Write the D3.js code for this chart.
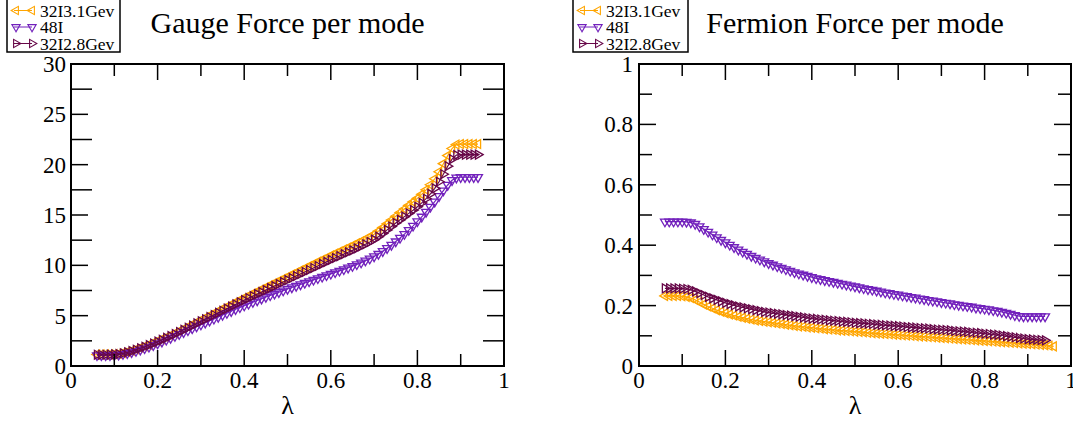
<!DOCTYPE html>
<html>
  <head>
    <meta charset="utf-8" />
    <title>Gauge / Fermion Force per mode</title>
    <script src="https://d3js.org/d3.v7.min.js"></script>
    <style>
      body { margin: 0; background: #fff; }
    </style>
  </head>
  <body>
    <div id="figure"></div>
    <script type="text/javascript">
      // lambda values (shared x for every series)
      var lambda = [
        0.06, 0.07, 0.08, 0.09, 0.10, 0.11, 0.12, 0.13, 0.14, 0.15,
        0.16, 0.17, 0.18, 0.19, 0.20, 0.21, 0.22, 0.23, 0.24, 0.25,
        0.26, 0.27, 0.28, 0.29, 0.30, 0.31, 0.32, 0.33, 0.34, 0.35,
        0.36, 0.37, 0.38, 0.39, 0.40, 0.41, 0.42, 0.43, 0.44, 0.45,
        0.46, 0.47, 0.48, 0.49, 0.50, 0.51, 0.52, 0.53, 0.54, 0.55,
        0.56, 0.57, 0.58, 0.59, 0.60, 0.61, 0.62, 0.63, 0.64, 0.65,
        0.66, 0.67, 0.68, 0.69, 0.70, 0.71, 0.72, 0.73, 0.74, 0.75,
        0.76, 0.77, 0.78, 0.79, 0.80, 0.81, 0.82, 0.83, 0.84, 0.85,
        0.86, 0.87, 0.88, 0.89, 0.90, 0.91, 0.92, 0.93, 0.94, 0.95,
        0.96
      ];

      var seriesNames = ["32I3.1Gev", "48I", "32I2.8Gev"];

      // Gauge force per mode
      var gauge31 = [
        1.15, 1.15, 1.15, 1.16, 1.18, 1.22, 1.30, 1.40, 1.52, 1.66,
        1.81, 1.96, 2.12, 2.30, 2.48, 2.67, 2.86, 3.06, 3.26, 3.47,
        3.68, 3.90, 4.12, 4.35, 4.57, 4.79, 5.01, 5.23, 5.45, 5.67,
        5.89, 6.11, 6.33, 6.55, 6.77, 6.98, 7.19, 7.40, 7.61, 7.82,
        8.03, 8.24, 8.45, 8.66, 8.87, 9.08, 9.29, 9.50, 9.71, 9.92,
        10.13, 10.34, 10.55, 10.76, 10.97, 11.17, 11.37, 11.57, 11.77, 11.97,
        12.18, 12.39, 12.61, 12.84, 13.08, 13.40, 13.75, 14.12, 14.50, 14.88,
        15.25, 15.60, 15.95, 16.30, 16.65, 17.05, 17.50, 18.00, 18.60, 19.30,
        20.10, 20.90, 21.60, 22.00, 22.05, 22.05, 22.05, 22.05, 22.05
      ];
      var gauge48 = [
        1.05, 1.05, 1.05, 1.06, 1.08, 1.12, 1.18, 1.26, 1.36, 1.48,
        1.61, 1.75, 1.90, 2.06, 2.23, 2.41, 2.59, 2.78, 2.97, 3.16,
        3.35, 3.54, 3.73, 3.92, 4.11, 4.30, 4.49, 4.68, 4.87, 5.06,
        5.25, 5.44, 5.63, 5.82, 6.00, 6.17, 6.34, 6.51, 6.68, 6.85,
        7.01, 7.17, 7.33, 7.49, 7.65, 7.80, 7.95, 8.10, 8.25, 8.40,
        8.55, 8.70, 8.85, 9.00, 9.15, 9.30, 9.45, 9.60, 9.76, 9.92,
        10.09, 10.27, 10.46, 10.66, 10.88, 11.12, 11.40, 11.70, 12.02, 12.36,
        12.72, 13.10, 13.50, 13.92, 14.36, 14.82, 15.30, 15.80, 16.32, 16.86,
        17.42, 17.98, 18.45, 18.70, 18.75, 18.75, 18.75, 18.75, 18.75
      ];
      var gauge28 = [
        1.12, 1.12, 1.12, 1.13, 1.15, 1.19, 1.26, 1.36, 1.48, 1.62,
        1.76, 1.91, 2.07, 2.24, 2.42, 2.60, 2.79, 2.98, 3.18, 3.38,
        3.59, 3.80, 4.01, 4.23, 4.44, 4.65, 4.86, 5.07, 5.28, 5.49,
        5.70, 5.91, 6.12, 6.33, 6.54, 6.74, 6.94, 7.14, 7.34, 7.54,
        7.74, 7.94, 8.14, 8.34, 8.54, 8.74, 8.94, 9.14, 9.34, 9.54,
        9.74, 9.94, 10.14, 10.34, 10.54, 10.73, 10.92, 11.11, 11.30, 11.49,
        11.69, 11.89, 12.10, 12.32, 12.56, 12.85, 13.18, 13.52, 13.86, 14.20,
        14.52, 14.84, 15.16, 15.48, 15.82, 16.20, 16.62, 17.10, 17.65, 18.30,
        19.05, 19.85, 20.55, 20.95, 21.00, 21.00, 21.00, 21.00, 21.00
      ];

      // Fermion force per mode
      var fermion31 = [
        0.232, 0.232, 0.232, 0.232, 0.231, 0.229, 0.225, 0.219, 0.212, 0.204,
        0.197, 0.191, 0.185, 0.180, 0.175, 0.171, 0.167, 0.163, 0.160, 0.157,
        0.154, 0.151, 0.149, 0.147, 0.145, 0.143, 0.141, 0.139, 0.137, 0.135,
        0.133, 0.131, 0.130, 0.128, 0.127, 0.125, 0.124, 0.122, 0.121, 0.120,
        0.118, 0.117, 0.116, 0.115, 0.114, 0.113, 0.112, 0.110, 0.109, 0.108,
        0.107, 0.106, 0.105, 0.104, 0.103, 0.102, 0.101, 0.100, 0.099, 0.098,
        0.097, 0.096, 0.095, 0.094, 0.093, 0.092, 0.091, 0.090, 0.089, 0.088,
        0.087, 0.086, 0.085, 0.084, 0.083, 0.082, 0.081, 0.080, 0.079, 0.078,
        0.077, 0.076, 0.075, 0.074, 0.073, 0.072, 0.071, 0.070, 0.069, 0.067,
        0.065
      ];
      var fermion48 = [
        0.478, 0.478, 0.478, 0.478, 0.478, 0.477, 0.475, 0.470, 0.462, 0.453,
        0.444, 0.435, 0.426, 0.417, 0.409, 0.401, 0.393, 0.385, 0.378, 0.371,
        0.364, 0.358, 0.352, 0.346, 0.340, 0.335, 0.330, 0.325, 0.320, 0.315,
        0.310, 0.306, 0.302, 0.298, 0.294, 0.290, 0.287, 0.284, 0.281, 0.278,
        0.275, 0.272, 0.269, 0.266, 0.263, 0.260, 0.257, 0.254, 0.252, 0.249,
        0.246, 0.243, 0.241, 0.238, 0.236, 0.233, 0.231, 0.228, 0.226, 0.223,
        0.221, 0.218, 0.216, 0.214, 0.211, 0.209, 0.207, 0.204, 0.202, 0.200,
        0.198, 0.196, 0.193, 0.191, 0.189, 0.187, 0.184, 0.182, 0.179, 0.176,
        0.172, 0.168, 0.165, 0.164, 0.164, 0.164, 0.164, 0.164, 0.164
      ];
      var fermion28 = [
        0.257, 0.257, 0.257, 0.257, 0.256, 0.255, 0.252, 0.247, 0.241, 0.235,
        0.229, 0.224, 0.219, 0.214, 0.209, 0.205, 0.201, 0.197, 0.194, 0.191,
        0.188, 0.185, 0.182, 0.179, 0.177, 0.175, 0.173, 0.171, 0.169, 0.167,
        0.165, 0.163, 0.161, 0.159, 0.157, 0.156, 0.154, 0.153, 0.151, 0.150,
        0.149, 0.147, 0.146, 0.145, 0.143, 0.142, 0.141, 0.140, 0.139, 0.137,
        0.136, 0.135, 0.134, 0.133, 0.132, 0.131, 0.129, 0.128, 0.127, 0.126,
        0.125, 0.124, 0.122, 0.121, 0.120, 0.119, 0.118, 0.116, 0.115, 0.114,
        0.113, 0.111, 0.110, 0.109, 0.107, 0.106, 0.104, 0.103, 0.101, 0.099,
        0.097, 0.095, 0.093, 0.091, 0.089, 0.088, 0.087, 0.086, 0.085
      ];

      var xTicks = [0, 0.2, 0.4, 0.6, 0.8, 1];
      var gaugeTicks = [0, 5, 10, 15, 20, 25, 30];
      var fermionTicks = [0, 0.2, 0.4, 0.6, 0.8, 1];

      var colors = ["#ffa500", "#7221bc", "#670748"];
      // marker rotation: left, down, right triangles
      var rotations = [-90, 180, 90];

      var serif = "'Liberation Serif', 'Times New Roman', Times, serif";
      var width = 1073;
      var height = 421;

      var svg = d3
        .select("#figure")
        .append("svg")
        .attr("width", width)
        .attr("height", height)
        .attr("font-family", serif);

      function addText(parent, x, y, size, anchor, str) {
        return parent
          .append("text")
          .attr("x", x)
          .attr("y", y)
          .attr("font-family", serif)
          .attr("font-size", size)
          .attr("text-anchor", anchor)
          .attr("fill", "#000")
          .text(str);
      }

      function drawPanel(opts) {
        var x = d3.scaleLinear().domain([0, 1]).range([opts.left, opts.right]);
        var y = d3.scaleLinear().domain(opts.yDomain).range([opts.bottom, opts.top]);
        var g = svg.append("g");

        // series
        var tri = d3.symbol().type(d3.symbolTriangle).size(34);
        opts.series.forEach(function (vals, i) {
          var pts = vals.map(function (v, k) {
            return [lambda[k], v];
          });
          g.append("path")
            .datum(pts)
            .attr("fill", "none")
            .attr("stroke", colors[i])
            .attr("stroke-width", 1.2)
            .attr(
              "d",
              d3.line()
                .x(function (d) { return x(d[0]); })
                .y(function (d) { return y(d[1]); })
            );
          g.selectAll(null)
            .data(pts)
            .enter()
            .append("path")
            .attr("d", tri)
            .attr("fill", "none")
            .attr("stroke", colors[i])
            .attr("stroke-width", 1.3)
            .attr("transform", function (d) {
              return "translate(" + x(d[0]) + "," + y(d[1]) + ") rotate(" + rotations[i] + ")";
            });
        });

        // ticks (inside, mirrored)
        var ax = g.append("g").attr("stroke", "#000").attr("stroke-width", 1.5);
        var xMinor = [0.1, 0.3, 0.5, 0.7, 0.9];
        xTicks.forEach(function (t) {
          ax.append("line").attr("x1", x(t)).attr("x2", x(t)).attr("y1", opts.bottom).attr("y2", opts.bottom - 16);
          ax.append("line").attr("x1", x(t)).attr("x2", x(t)).attr("y1", opts.top).attr("y2", opts.top + 16);
        });
        xMinor.forEach(function (t) {
          ax.append("line").attr("x1", x(t)).attr("x2", x(t)).attr("y1", opts.bottom).attr("y2", opts.bottom - 12);
          ax.append("line").attr("x1", x(t)).attr("x2", x(t)).attr("y1", opts.top).attr("y2", opts.top + 12);
        });
        opts.yTicks.forEach(function (t) {
          ax.append("line").attr("x1", opts.left).attr("x2", opts.left + opts.majorLen).attr("y1", y(t)).attr("y2", y(t));
          ax.append("line").attr("x1", opts.right).attr("x2", opts.right - opts.majorLen).attr("y1", y(t)).attr("y2", y(t));
        });
        opts.yTicks.slice(1).forEach(function (t, k) {
          var m = (t + opts.yTicks[k]) / 2;
          ax.append("line").attr("x1", opts.left).attr("x2", opts.left + opts.minorLen).attr("y1", y(m)).attr("y2", y(m));
          ax.append("line").attr("x1", opts.right).attr("x2", opts.right - opts.minorLen).attr("y1", y(m)).attr("y2", y(m));
        });

        // frame
        g.append("rect")
          .attr("x", opts.left)
          .attr("y", opts.top)
          .attr("width", opts.right - opts.left)
          .attr("height", opts.bottom - opts.top)
          .attr("fill", "none")
          .attr("stroke", "#000")
          .attr("stroke-width", 2);

        // tick labels
        xTicks.forEach(function (d) {
          addText(g, x(d), opts.bottom + 22, 23, "middle", d3.format("~g")(d));
        });
        opts.yTicks.forEach(function (d) {
          addText(g, opts.left - opts.labelGap, y(d) + 8, 23, "end", d3.format("~g")(d));
        });

        // axis label and title
        addText(g, (opts.left + opts.right) / 2, 414, 26, "middle", "λ");
        addText(g, (opts.left + opts.right) / 2, 33, 30, "middle", opts.title);

        // legend
        var lg = g.append("g");
        lg.append("rect")
          .attr("x", opts.legendX)
          .attr("y", -3)
          .attr("width", opts.legendW)
          .attr("height", 55)
          .attr("fill", "#fff")
          .attr("stroke", "#000")
          .attr("stroke-width", 1.5);
        var legTri = d3.symbol().type(d3.symbolTriangle).size(30);
        seriesNames.forEach(function (name, i) {
          var cy = 10.5 + i * 16.5;
          var x0 = opts.legendX + 7;
          var x1 = opts.legendX + 25;
          lg.append("line")
            .attr("x1", x0).attr("x2", x1)
            .attr("y1", cy).attr("y2", cy)
            .attr("stroke", colors[i]).attr("stroke-width", 1);
          [x0 + 2, x1].forEach(function (mx) {
            lg.append("path")
              .attr("d", legTri)
              .attr("fill", "none")
              .attr("stroke", colors[i])
              .attr("stroke-width", 1.1)
              .attr("transform", "translate(" + mx + "," + cy + ") rotate(" + rotations[i] + ")");
          });
          addText(lg, opts.legendX + 33, cy + 6, 17.5, "start", name);
        });
      }

      drawPanel({
        left: 71, right: 504, top: 64, bottom: 366,
        yDomain: [0, 30], yTicks: gaugeTicks,
        majorLen: 17, minorLen: 21, labelGap: 5,
        series: [gauge31, gauge48, gauge28],
        title: "Gauge Force per mode",
        legendX: 7, legendW: 113
      });

      drawPanel({
        left: 639, right: 1071, top: 64, bottom: 366,
        yDomain: [0, 1], yTicks: fermionTicks,
        majorLen: 17, minorLen: 13, labelGap: 6,
        series: [fermion31, fermion48, fermion28],
        title: "Fermion Force per mode",
        legendX: 573, legendW: 115
      });
    </script>
  </body>
</html>
